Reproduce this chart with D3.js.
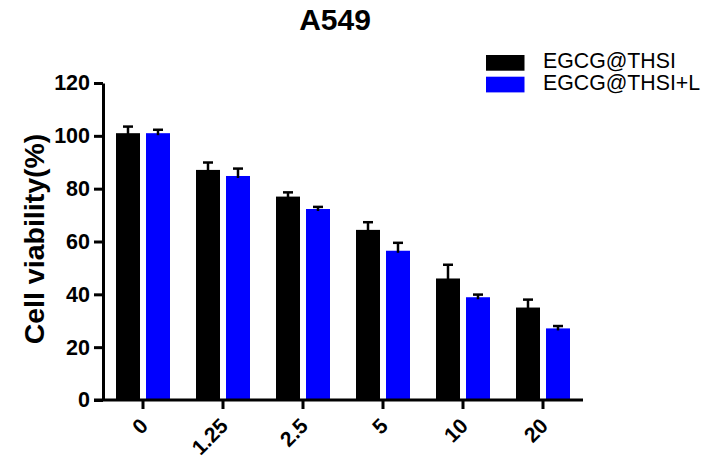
<!DOCTYPE html>
<html>
<head>
<meta charset="utf-8">
<script src="https://cdn.jsdelivr.net/npm/d3@7"></script>
<style>
  html, body { margin: 0; padding: 0; background: #fff; }
  svg { display: block; font-family: "Liberation Sans", Arial, sans-serif; }
</style>
</head>
<body>
<svg id="chart" width="707" height="461"></svg>
<script>
const title = "A549";
const categories = ["0", "1.25", "2.5", "5", "10", "20"];
const seriesNames = ["EGCG@THSI", "EGCG@THSI+L"];
const seriesColors = ["#000000", "#0000ff"];
const meanA = [101, 87.1, 77.0, 64.4, 46.0, 35.0];
const errA  = [2.5, 2.8, 1.6, 2.9, 5.2, 3.0];
const meanB = [101, 84.8, 72.3, 56.5, 38.9, 27.1];
const errB  = [1.3, 2.8, 0.8, 3.0, 1.0, 0.9];
const yTicks = [0, 20, 40, 60, 80, 100, 120];
const yLabel = "Cell viability(%)";

const svg = d3.select("#chart");
const plotL = 103, plotR = 583, plotT = 83, plotB = 400;

const x0 = d3.scaleBand().domain(categories).range([plotL, plotR]).padding(0);
const x1 = d3.scaleBand().domain(seriesNames).range([-27, 27]).paddingInner(0.2).paddingOuter(0);
const y = d3.scaleLinear().domain([0, 120]).range([plotB, plotT]);

const data = [];
categories.forEach((c, i) => {
  data.push({cat: c, s: seriesNames[0], v: meanA[i], e: errA[i], col: seriesColors[0]});
  data.push({cat: c, s: seriesNames[1], v: meanB[i], e: errB[i], col: seriesColors[1]});
});
const cx = d => x0(d.cat) + x0.bandwidth() / 2 + x1(d.s);

// bars
svg.append("g").selectAll("rect").data(data).join("rect")
  .attr("x", d => cx(d))
  .attr("y", d => y(d.v))
  .attr("width", x1.bandwidth())
  .attr("height", d => y(0) - y(d.v))
  .attr("fill", d => d.col);

// error bars
const eg = svg.append("g").attr("stroke", "#000");
eg.selectAll("line.stem").data(data).join("line")
  .attr("class", "stem")
  .attr("x1", d => cx(d) + x1.bandwidth() / 2)
  .attr("x2", d => cx(d) + x1.bandwidth() / 2)
  .attr("y1", d => y(d.v) + 2)
  .attr("y2", d => y(d.v + d.e))
  .attr("stroke-width", 2.5);
eg.selectAll("line.cap").data(data).join("line")
  .attr("class", "cap")
  .attr("x1", d => cx(d) + x1.bandwidth() / 2 - 5)
  .attr("x2", d => cx(d) + x1.bandwidth() / 2 + 5)
  .attr("y1", d => y(d.v + d.e))
  .attr("y2", d => y(d.v + d.e))
  .attr("stroke-width", 2.5);

// y axis
const yAxis = svg.append("g").attr("transform", `translate(${plotL},0)`)
  .call(d3.axisLeft(y).tickValues(yTicks).tickSize(9).tickPadding(4).tickSizeOuter(0));
yAxis.select(".domain").attr("stroke", "#000").attr("stroke-width", 3);
yAxis.selectAll(".tick line").attr("stroke", "#000").attr("stroke-width", 3);
yAxis.selectAll(".tick text").attr("font-size", 21.5).attr("font-weight", "bold").attr("fill", "#000")
  .attr("font-family", "Liberation Sans, Arial, sans-serif");

// x axis
const xAxis = svg.append("g").attr("transform", `translate(0,${plotB})`)
  .call(d3.axisBottom(x0).tickSize(9).tickSizeOuter(0));
xAxis.select(".domain").attr("stroke", "#000").attr("stroke-width", 3)
  .attr("d", `M${plotL - 9},0H${plotR}`);
xAxis.selectAll(".tick line").attr("stroke", "#000").attr("stroke-width", 3);
xAxis.selectAll(".tick text")
  .attr("font-size", 21).attr("font-weight", "bold").attr("fill", "#000")
  .attr("font-family", "Liberation Sans, Arial, sans-serif")
  .attr("text-anchor", "end")
  .attr("dy", null)
  .attr("y", 0)
  .attr("transform", "translate(1,22) rotate(-45)")
  .attr("dominant-baseline", "central");

// y label
svg.append("text")
  .attr("transform", `translate(44,${(135 + 343) / 2}) rotate(-90)`)
  .attr("text-anchor", "middle")
  .attr("font-size", 28.5).attr("font-weight", "bold")
  .text(yLabel);

// title
svg.append("text")
  .attr("x", 335).attr("y", 30)
  .attr("text-anchor", "middle")
  .attr("font-size", 30).attr("font-weight", "bold")
  .text(title);

// legend
const lg = svg.append("g");
seriesNames.forEach((n, i) => {
  lg.append("rect").attr("x", 486).attr("y", 55 + i * 21.7).attr("width", 38.5).attr("height", 15.7)
    .attr("fill", seriesColors[i]);
  lg.append("text").attr("x", 543).attr("y", 68 + i * 21.7)
    .attr("font-size", 21.3).attr("fill", "#000")
    .text(n);
});
</script>
</body>
</html>
